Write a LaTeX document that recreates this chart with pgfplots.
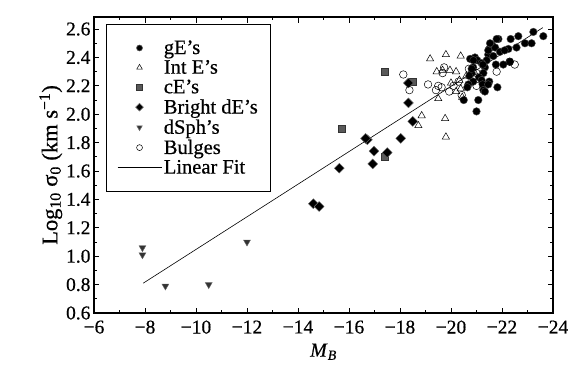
\documentclass[border=0pt]{standalone}
\usepackage{fontspec}
\setmainfont{Liberation Serif}[FakeBold=0.5, AutoFakeBold=0.5]
\usepackage{pgfplots}
\pgfplotsset{compat=1.18}
\pgfplotsset{
  markleg/.style={legend image code/.code={\draw[mark repeat=2,mark phase=2,##1, every mark/.append style={scale=0.78}] plot coordinates {(0pt,0pt) (22pt,0pt) (44pt,0pt)};}},
  lineleg/.style={legend image code/.code={\draw[##1] (0pt,0pt) -- (44pt,0pt);}},
}
\begin{document}
\begin{tikzpicture}
\begin{axis}[
  name=ax,
  scale only axis,
  width=459pt, height=296pt,
  x dir=reverse,
  xmin=-24, xmax=-6, ymin=0.6, ymax=2.685,
  xtick={-6,-8,-10,-12,-14,-16,-18,-20,-22,-24},
  xticklabels={−6,−8,−10,−12,−14,−16,−18,−20,−22,−24},
  ytick={0.6,0.8,1.0,1.2,1.4,1.6,1.8,2.0,2.2,2.4,2.6},
  yticklabels={0.6,0.8,1.0,1.2,1.4,1.6,1.8,2.0,2.2,2.4,2.6},
  minor x tick num=1, minor y tick num=1,
  tick align=inside,
  xtick pos=both, ytick pos=both,
  major tick length=5.5pt, minor tick length=3pt,
  every tick/.style={black, line width=0.8pt},
  axis line style={line width=1.1pt},
  tick label style={font=\bfseries\fontsize{19.5}{21}\selectfont},
  xticklabel style={yshift=-4pt},
  xlabel={\textit{M}\textsubscript{\textit{B}}},
  ylabel={Log\textsubscript{10} σ\textsubscript{0} (km s\textsuperscript{−1})},
  xlabel style={font=\bfseries\fontsize{20}{22}\selectfont, yshift=-3pt},
  ylabel style={font=\bfseries\fontsize{22.5}{24}\selectfont, yshift=-3pt},
  legend style={at={(0.026,0.976)}, anchor=north west, draw=black, line width=0.6pt,
    font=\bfseries\fontsize{20.5}{22}\selectfont, inner xsep=11pt, inner ysep=14pt,
    row sep=0.5pt, legend cell align=left,
    /tikz/every even column/.append style={column sep=15pt}},
  markleg,
]
% gE's
\addplot[only marks, mark=*, mark size=3.8pt, mark options={fill=black, draw=black!70}] coordinates {
(-23.23,2.58) (-23.62,2.55) (-22.64,2.55) (-22.34,2.53) (-22.9,2.50) (-23.16,2.50)
(-21.86,2.53) (-21.6,2.49) (-21.5,2.46) (-21.73,2.47) (-21.92,2.44) (-22.25,2.46)
(-22.57,2.47) (-22.1,2.45) (-21.46,2.42) (-21.66,2.41) (-20.94,2.40) (-21.03,2.38)
(-21.4,2.38) (-21.2,2.36) (-21.33,2.33) (-21.76,2.35) (-22.05,2.35) (-22.31,2.37)
(-20.87,2.33) (-20.81,2.29) (-21.27,2.29) (-20.72,2.27) (-21.1,2.26) (-20.87,2.23)
(-21.2,2.24) (-20.68,2.21) (-21.24,2.21) (-21.5,2.23) (-21.27,2.17) (-21.82,2.19)
(-21.33,2.16) (-20.64,2.19) (-21.07,2.10) (-20.75,2.39) (-20.88,2.38) (-20.81,2.32)
(-21.25,2.35) (-21.46,2.45) (-21.53,2.50) (-21.79,2.53) (-21.46,2.21) (-20.5,2.10)
(-21.0,2.02)
};
\addlegendentry{gE’s}
% Int E's
\addplot[only marks, mark=triangle, mark size=4.2pt, mark options={fill=white, draw=black, line width=0.5pt}] coordinates {
(-19.18,2.39) (-19.8,2.42) (-20.38,2.41) (-19.44,2.30) (-19.67,2.31) (-19.96,2.31)
(-20.2,2.30) (-20.33,2.24) (-20.38,2.18) (-19.5,2.11) (-20.44,2.12) (-18.85,1.99)
(-18.72,1.92) (-19.77,1.97) (-19.8,1.84) (-20.0,2.22) (-20.6,2.27) (-20.9,2.30)
(-20.2,2.16)
};
\addlegendentry{Int E’s}
% cE's
\addplot[only marks, mark=square*, mark size=3.6pt, mark options={fill=black!65, draw=black!80}] coordinates {
(-15.7,1.90) (-17.4,1.70) (-17.4,2.30) (-18.5,2.23)
};
\addlegendentry{cE’s}
% Bright dE's
\addplot[only marks, mark=square*, mark size=3.5pt, mark options={rotate=45, fill=black, draw=black!55}] coordinates {
(-18.33,2.22) (-18.33,2.08) (-18.5,1.95) (-18.03,1.83) (-17.5,1.73) (-16.98,1.74)
(-16.93,1.65) (-16.72,1.82) (-16.65,1.83) (-15.62,1.62) (-14.6,1.37) (-14.83,1.35)
};
\addlegendentry{Bright dE’s}
% dSph's
\addplot[only marks, mark=triangle*, mark size=4pt, mark options={rotate=180, fill=black!80, draw=black!60}] coordinates {
(-7.9,1.06) (-7.9,1.01) (-8.8,0.79) (-10.5,0.80) (-12.0,1.10)
};
\addlegendentry{dSph’s}
% Bulges
\addplot[only marks, mark=o, mark size=3.8pt, mark options={fill=white, draw=black, line width=0.5pt}] coordinates {
(-18.13,2.28) (-18.37,2.17) (-19.1,2.21) (-19.63,2.19) (-19.93,2.16) (-19.73,2.33)
(-19.67,2.29) (-19.41,2.17) (-20.42,2.135) (-21.79,2.30) (-22.5,2.35) (-22.3,2.37)
(-20.3,2.23) (-21.0,2.29) (-20.87,2.26) (-20.1,2.20) (-19.5,2.20) (-20.7,2.32)
(-21.0,2.20)
};
\addlegendentry{Bulges}
% Linear fit
\addplot[black, line width=0.6pt, lineleg] coordinates {
(-7.93,0.81) (-23.6,2.61)
};
\addlegendentry{Linear Fit}
\end{axis}
\pgfresetboundingbox
\path ([shift={(-94pt,-60pt)}]ax.south west) rectangle ([shift={(24pt,17pt)}]ax.north east);
\end{tikzpicture}
\end{document}
